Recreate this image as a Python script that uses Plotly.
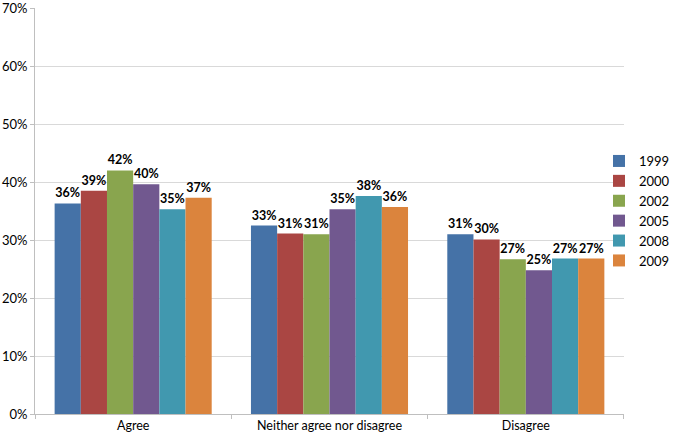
import plotly.graph_objects as go

categories = ["Agree", "Neither agree nor disagree", "Disagree"]
years = ["1999", "2000", "2002", "2005", "2008", "2009"]
values = {
    "1999": [36.3, 32.5, 31.0],
    "2000": [38.5, 31.1, 30.1],
    "2002": [42.0, 31.0, 26.7],
    "2005": [39.6, 35.3, 24.8],
    "2008": [35.3, 37.6, 26.8],
    "2009": [37.3, 35.7, 26.8],
}
labels = {
    "1999": ["36%", "33%", "31%"],
    "2000": ["39%", "31%", "30%"],
    "2002": ["42%", "31%", "27%"],
    "2005": ["40%", "35%", "25%"],
    "2008": ["35%", "38%", "27%"],
    "2009": ["37%", "36%", "27%"],
}
colors = ["#4572a7", "#aa4643", "#89a54e", "#71588f", "#4198af", "#db843d"]
y_ticks = [0, 10, 20, 30, 40, 50, 60, 70]

fig = go.Figure()
for yr, col in zip(years, colors):
    fig.add_trace(go.Bar(
        name=yr, x=categories, y=values[yr], marker_color=col, marker_line_width=0,
        text=labels[yr], textposition="outside",
        textfont=dict(family="Lato", size=12.5, color="#000000", weight="bold"),
        cliponaxis=False,
    ))

fig.update_layout(
    width=675, height=438,
    margin=dict(l=35, r=0, t=8, b=24, autoexpand=False),
    paper_bgcolor="white", plot_bgcolor="white",
    barmode="group", bargap=0.2, bargroupgap=0,
    font=dict(family="Lato", size=13, color="#000000"),
    legend=dict(x=1.0, y=0.5, xanchor="right", yanchor="middle",
                bgcolor="rgba(0,0,0,0)",
                font=dict(family="Lato", size=13, color="#000000"),
                tracegroupgap=0, itemwidth=30),
    xaxis=dict(domain=[0, 0.9203], showline=True, linecolor="#bfbfbf", linewidth=1,
               ticks="outside", tickson="boundaries", ticklen=4, tickcolor="#bfbfbf",
               tickfont=dict(size=12.5)),
    yaxis=dict(range=[0, 70], tickvals=y_ticks, ticktext=[f"{t}%" for t in y_ticks],
               showgrid=True, gridcolor="#d9d9d9", gridwidth=1,
               showline=True, linecolor="#bfbfbf", linewidth=1,
               ticks="outside", ticklen=4, tickcolor="#bfbfbf",
               tickfont=dict(size=13), zeroline=False, ticklabeloverflow="allow"),
)

fig.write_html("out.html", config={"displayModeBar": False},
               post_script="document.body.style.margin='0';document.body.style.overflow='hidden';")
